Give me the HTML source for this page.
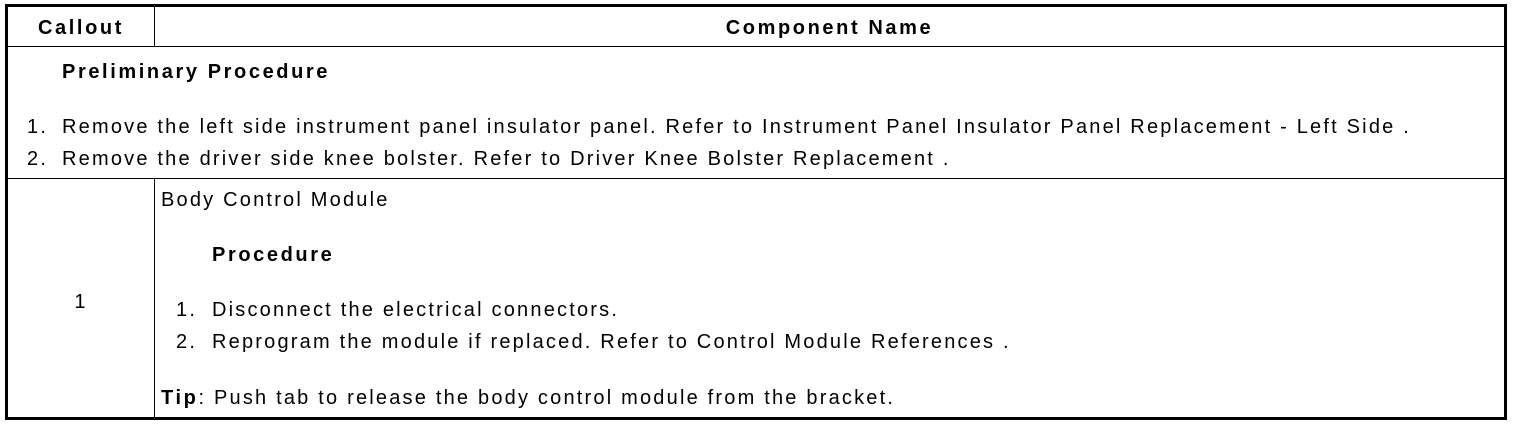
<!DOCTYPE html>
<html><head><meta charset="utf-8"><style>
body{margin:0;width:1520px;height:426px;background:#fff;position:relative;overflow:hidden;font-family:"Liberation Sans",Arial,sans-serif;font-size:20px;color:#000;letter-spacing:2.2px}
.t{position:absolute;line-height:32px;white-space:nowrap}
.b{font-weight:bold;letter-spacing:2.6px}
.l{position:absolute;background:#000}
</style></head><body>
<div class="l" style="left:5px;top:4px;width:1502px;height:3px"></div>
<div class="l" style="left:5px;top:417px;width:1502px;height:3px"></div>
<div class="l" style="left:5px;top:4px;width:3px;height:416px"></div>
<div class="l" style="left:1504px;top:4px;width:3px;height:416px"></div>
<div class="l" style="left:5px;top:46px;width:1502px;height:1px"></div>
<div class="l" style="left:5px;top:178px;width:1502px;height:1px"></div>
<div class="l" style="left:154px;top:4px;width:1px;height:43px"></div>
<div class="l" style="left:154px;top:178px;width:1px;height:240px"></div>

<div class="t b" style="left:8px;width:146px;text-align:center;top:12px">Callout</div>
<div class="t b" style="left:155px;width:1349px;text-align:center;top:12px">Component Name</div>
<div class="t b" style="left:62px;top:56px">Preliminary Procedure</div>
<div class="t" style="left:27px;top:111px">1.</div>
<div class="t" style="left:62px;top:111px">Remove the left side instrument panel insulator panel. Refer to Instrument Panel Insulator Panel Replacement - Left Side .</div>
<div class="t" style="left:27px;top:143px">2.</div>
<div class="t" style="left:62px;top:143px">Remove the driver side knee bolster. Refer to Driver Knee Bolster Replacement .</div>
<div class="t" style="left:8px;width:146px;text-align:center;top:286px">1</div>
<div class="t" style="left:161px;top:184px">Body Control Module</div>
<div class="t b" style="left:212px;top:239px">Procedure</div>
<div class="t" style="left:176px;top:294px">1.</div>
<div class="t" style="left:212px;top:294px">Disconnect the electrical connectors.</div>
<div class="t" style="left:176px;top:326px">2.</div>
<div class="t" style="left:212px;top:326px">Reprogram the module if replaced. Refer to Control Module References .</div>
<div class="t" style="left:161px;top:382px"><b class="b">Tip</b>: Push tab to release the body control module from the bracket.</div>
</body></html>
